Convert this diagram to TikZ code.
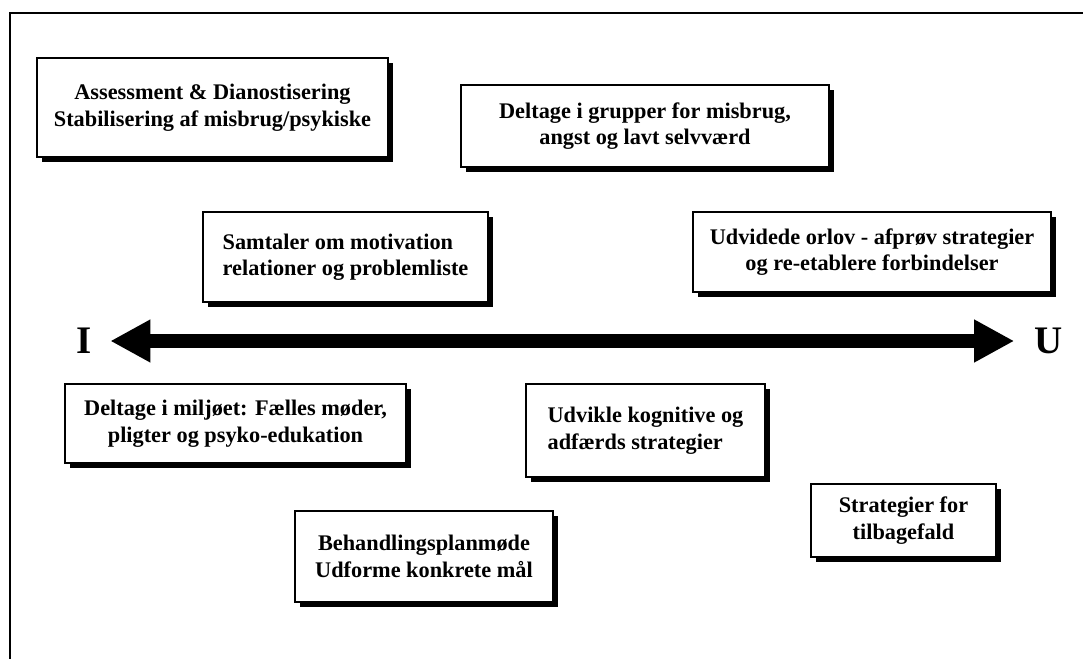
\documentclass[tikz,border=0pt]{standalone}
\usepackage{fontspec}
\setmainfont{Liberation Serif}
\usetikzlibrary{arrows.meta, shadows}
\tikzstyle{stage} = [rectangle, draw=black, line width=1.6pt, fill=white, align=center, inner sep=0pt,
font=\fontsize{22.3}{26.5}\selectfont\bfseries,
drop shadow={shadow xshift=5pt, shadow yshift=-5pt, fill=black, opacity=1}]
\tikzstyle{pole} = [font=\fontsize{39}{39}\selectfont\bfseries, inner sep=0pt]
\tikzstyle{bigarrow} = [line width=14pt, {Triangle[length=40pt,width=40pt]}-{Triangle[length=40pt,width=40pt]}]

\begin{document}
\begin{tikzpicture}[x=1pt, y=-1pt]
\useasboundingbox (0,0) rectangle (1083,658);
\draw [line width=2pt] (10,660) -- (10,13) -- (1085,13);

\node (assess) [stage, minimum width=351pt, minimum height=99pt] at (212.5,107.5) {Assessment \& Dianostisering\\Stabilisering af misbrug/psykiske};
\node (grupper) [stage, minimum width=368pt, minimum height=82pt] at (645,126) {Deltage i grupper for misbrug,\\angst og lavt selvværd};
\node (samtale) [stage, align=left, minimum width=285pt, minimum height=90pt] at (345.5,257) {Samtaler om motivation\\relationer og problemliste};
\node (orlov) [stage, minimum width=358pt, minimum height=80pt] at (872,252) {Udvidede orlov - afprøv strategier\\og re-etablere forbindelser};
\node (miljo) [stage, minimum width=341pt, minimum height=79pt] at (235.5,423.5) {Deltage i miljøet: Fælles møder,\\pligter og psyko-edukation};
\node (kognitiv) [stage, align=left, minimum width=239pt, minimum height=93pt] at (645.5,430.5) {Udvikle kognitive og\\adfærds strategier};
\node (planmode) [stage, minimum width=258pt, minimum height=91pt] at (424,556.5) {Behandlingsplanmøde\\Udforme konkrete mål};
\node (tilbage) [stage, minimum width=185pt, minimum height=73pt] at (903.5,520.5) {Strategier for\\tilbagefald};

\node (ind) [pole] at (84.5,341) {I};
\node (ud) [pole] at (1048.5,341) {U};

\draw [bigarrow, shorten <=18pt, shorten >=20pt] (ind.east) -- (ud.west);

\end{tikzpicture}
\end{document}
